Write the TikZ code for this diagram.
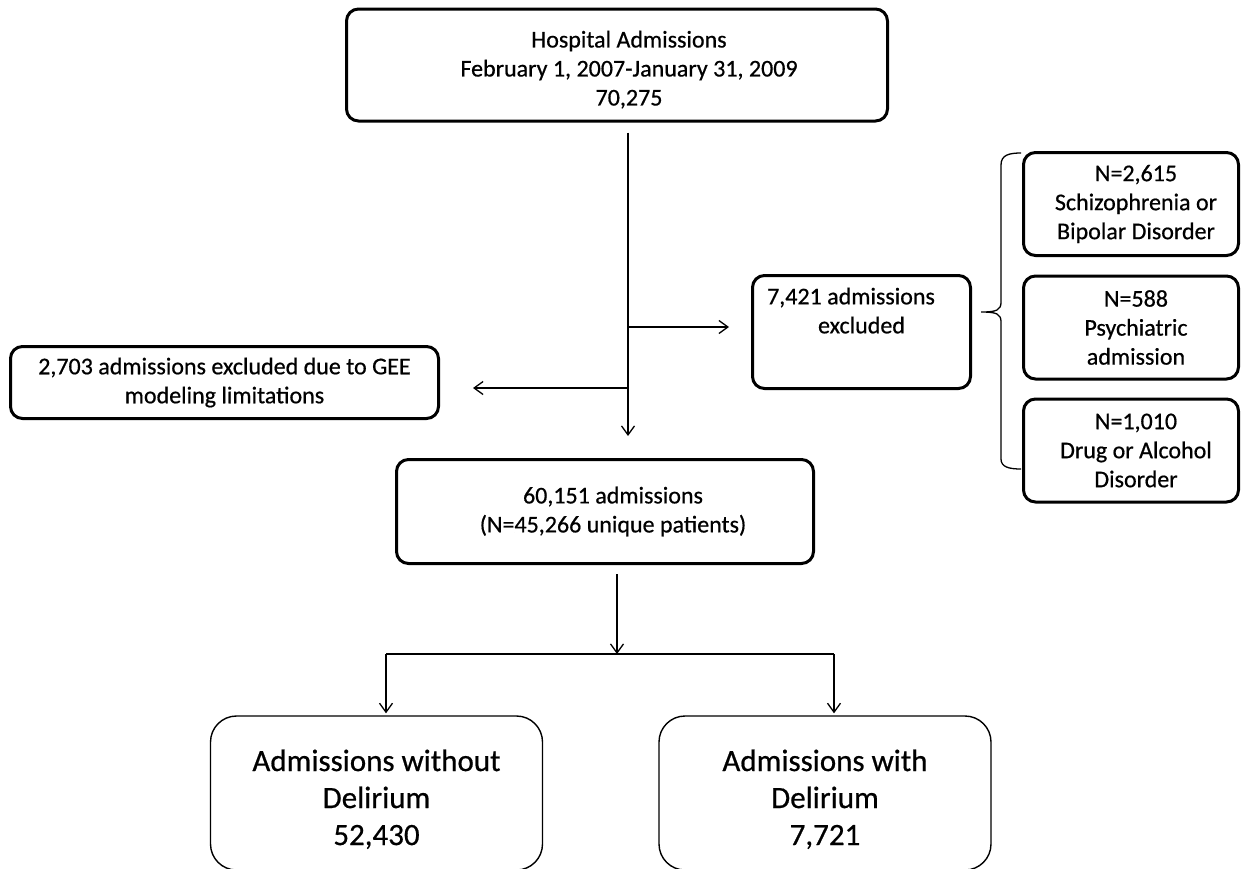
\documentclass[tikz,border=0pt]{standalone}
\usepackage{fontspec}
\setmainfont{Carlito}[FakeBold=0.6]
\usetikzlibrary{arrows.meta}
\begin{document}
\begin{tikzpicture}[x=1pt,y=-1pt,
  box/.style={draw, line width=3pt, rounded corners=12pt, align=center, inner sep=0pt,
    font=\fontsize{24}{29}\selectfont},
  outbox/.style={draw, line width=1.4pt, rounded corners=26pt, align=center, inner sep=0pt,
    font=\fontsize{31}{37}\selectfont},
  conn/.style={line width=1.3pt},
  arr/.style={-{Straight Barb[length=9pt,width=13pt]}}
]
\path[use as bounding box, fill=white] (0,0) rectangle (1241,868);

% boxes
\node[box, minimum width=541pt, minimum height=112pt] (top) at (617,65)
  {\rule{0pt}{26pt}\hspace*{24pt}Hospital Admissions\\\hspace*{24pt}February 1, 2007-January 31, 2009\\\hspace*{24pt}70,275};
\node[box, minimum width=428pt, minimum height=72pt] (gee) at (224.5,382.5)
  {2,703 admissions excluded due to GEE\\modeling limitations};
\node[box, minimum width=218pt, minimum height=113pt] (excl) at (861.5,332)
  {7,421 admissions\hspace*{21pt}\\excluded\hspace*{21pt}\\[14pt]\mbox{}};
\node[box, minimum width=215pt, minimum height=103pt] (r1) at (1131,204)
  {\hspace*{10pt}N=2,615\\\hspace*{10pt}Schizophrenia or\\\hspace*{10pt}Bipolar Disorder};
\node[box, minimum width=215pt, minimum height=103pt] (r2) at (1131,327.5)
  {\hspace*{10pt}N=588\\\hspace*{10pt}Psychiatric\\\hspace*{10pt}admission};
\node[box, minimum width=215pt, minimum height=103pt] (r3) at (1131,450.5)
  {\hspace*{10pt}N=1,010\\\hspace*{10pt}Drug or Alcohol\\\hspace*{10pt}Disorder};
\node[box, minimum width=417pt, minimum height=104pt] (mid) at (605,511.5)
  {\hspace*{16pt}60,151 admissions\\\hspace*{16pt}(N=45,266 unique patients)};
\node[outbox, minimum width=332pt, minimum height=154pt] (wo) at (376.5,793)
  {\rule{0pt}{34pt}Admissions without\\Delirium\\52,430};
\node[outbox, minimum width=332pt, minimum height=154pt] (wi) at (825,793)
  {\rule{0pt}{34pt}Admissions with\\Delirium\\7,721};

% junction coordinates
\coordinate (m) at (628,0);
\coordinate (j1) at (628,327);
\coordinate (j2) at (628,388);
\coordinate (s) at (617,654);
\coordinate (sl) at (386,654);
\coordinate (sr) at (834,654);

% connectors
\draw[conn, arr, shorten <=10pt, shorten >=22pt] (top.south -| m) -- (mid.north -| m);
\draw[conn, arr, shorten >=22pt] (j1) -- (excl.west |- j1);
\draw[conn, arr, shorten >=33pt] (j2) -- (gee.east |- j2);
\draw[conn, arr, shorten <=9pt] (mid.south -| s) -- (s);
\draw[conn] (sl) -- (sr);
\draw[conn, arr, shorten >=2pt] (sl) -- (wo.north -| sl);
\draw[conn, arr, shorten >=2pt] (sr) -- (wi.north -| sr);

% brace
\draw[conn] (1021,153) .. controls (1009,153) and (1001,155) .. (1001,165)
  -- (1001,302) .. controls (1001,310) and (997,312) .. (981,312)
  .. controls (997,312) and (1001,314) .. (1001,322)
  -- (1001,459) .. controls (1001,467) and (1009,469) .. (1021,469);
\end{tikzpicture}
\end{document}
